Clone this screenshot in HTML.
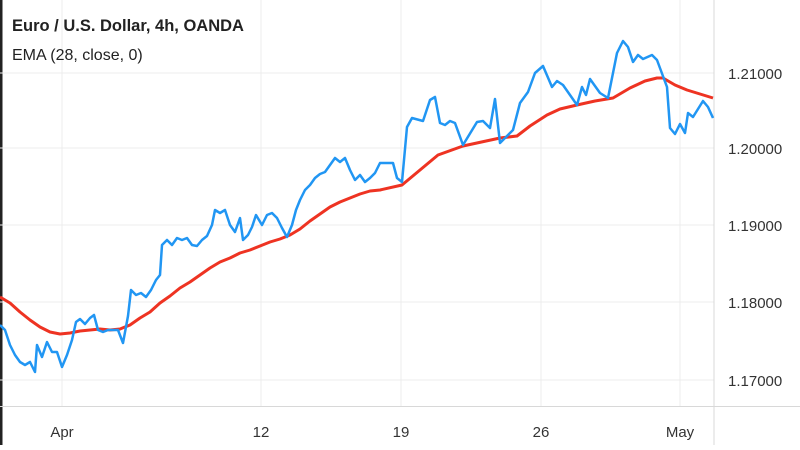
<!DOCTYPE html>
<html><head><style>
html,body{margin:0;padding:0;background:#fff;}
body{width:800px;height:445px;overflow:hidden;font-family:"Liberation Sans",sans-serif;}
</style></head><body>
<svg width="800" height="445" viewBox="0 0 800 445" xmlns="http://www.w3.org/2000/svg">
<rect width="800" height="445" fill="#fff"/>
<rect x="0" y="0" width="2.5" height="445" fill="#222"/>
<g stroke="#ececec" stroke-width="1">
<line x1="0" y1="73" x2="714" y2="73"/><line x1="0" y1="148" x2="714" y2="148"/>
<line x1="0" y1="225" x2="714" y2="225"/><line x1="0" y1="302" x2="714" y2="302"/>
<line x1="0" y1="380" x2="714" y2="380"/>
<line x1="62" y1="0" x2="62" y2="406"/><line x1="261" y1="0" x2="261" y2="406"/>
<line x1="401" y1="0" x2="401" y2="406"/><line x1="541" y1="0" x2="541" y2="406"/>
<line x1="680" y1="0" x2="680" y2="406"/>
</g>
<line x1="714" y1="0" x2="714" y2="445" stroke="#d8d8d8"/>
<line x1="0" y1="406.5" x2="800" y2="406.5" stroke="#d8d8d8"/>
<polyline fill="none" stroke="#ee3322" stroke-width="3" stroke-linejoin="round" points="0,297 10,303 20,312 30,320 40,327 50,332 60,334 70,333 80,331 90,330 100,329 110,330 120,329 130,325 140,318 150,312 160,303 170,296 180,288 190,282 200,275 210,268 220,262 230,258 240,253 250,250 260,246 270,242 280,239 290,235 300,229 310,221 320,214 330,207 340,202 350,198 360,194 370,191 380,190 402,185 420,170 438,155 463,146 500,138 517,136 530,126 547,115 560,109 577,105 595,101 613,98 630,88 645,81 657,78 663,78 675,85 687,90 700,94 713,98"/>
<polyline fill="none" stroke="#2196f3" stroke-width="2.5" stroke-linejoin="round" points="0,325 5,330 10,345 15,355 20,362 25,365 30,362 35,372 37,345 42,357 47,342 52,352 57,352 62,367 67,355 72,340 76,322 80,319 85,324 90,318 94,315 98,330 103,332 108,330 113,330 118,330 123,343 128,316 131,290 136,295 141,293 146,297 151,290 156,280 160,275 162,245 167,240 172,245 177,238 182,240 187,238 192,245 197,246 202,240 207,236 212,225 215,210 220,213 225,210 230,225 235,232 240,218 243,240 248,235 252,227 256,215 262,225 267,215 272,213 277,218 282,228 287,237 292,225 296,210 300,200 305,190 310,185 315,178 320,174 325,172 330,165 335,158 340,162 345,158 350,170 355,180 360,175 365,182 370,178 375,173 380,163 393,163 397,178 402,182 407,127 412,118 423,121 430,100 435,97 440,123 445,125 450,121 455,123 463,145 477,122 483,121 490,128 495,99 500,143 513,130 520,103 528,92 535,73 543,66 552,87 557,81 563,85 577,105 582,87 586,95 590,79 600,93 608,98 617,53 623,41 628,47 633,62 638,55 643,59 652,55 657,60 667,87 670,128 675,134 680,124 685,133 688,113 693,117 703,101 708,107 713,118"/>
<g fill="#222" font-size="16">
<text x="12" y="31" font-weight="bold" font-size="16.5">Euro / U.S. Dollar, 4h, OANDA</text>
<text x="12" y="60" font-size="16">EMA (28, close, 0)</text>
</g>
<g fill="#333" font-size="15">
<text x="728" y="79">1.21000</text><text x="728" y="154">1.20000</text>
<text x="728" y="231">1.19000</text><text x="728" y="308">1.18000</text>
<text x="728" y="386">1.17000</text>
<text x="62" y="437" text-anchor="middle">Apr</text>
<text x="261" y="437" text-anchor="middle">12</text>
<text x="401" y="437" text-anchor="middle">19</text>
<text x="541" y="437" text-anchor="middle">26</text>
<text x="680" y="437" text-anchor="middle">May</text>
</g>
</svg>
</body></html>
